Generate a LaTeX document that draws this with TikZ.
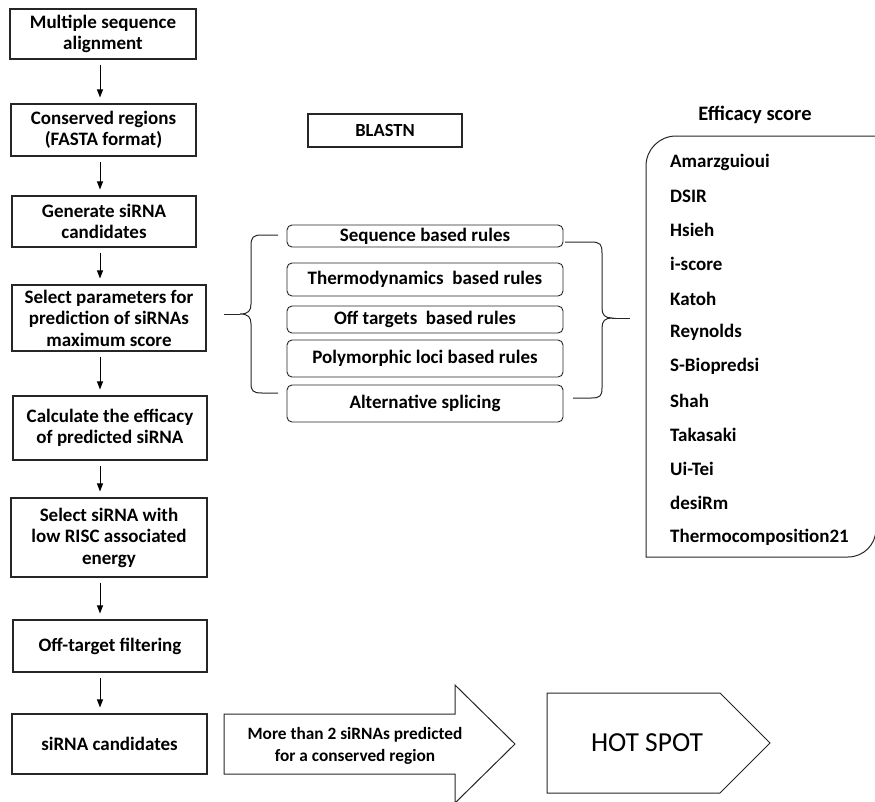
\documentclass[tikz,border=0pt]{standalone}
\usepackage{fontspec}
\setmainfont{Carlito}
\usetikzlibrary{arrows.meta}
\begin{document}
\begin{tikzpicture}[x=1pt,y=-1pt,
 box/.style={draw=black!85, line width=1.1pt, align=center, font=\bfseries\fontsize{19}{21.5}\selectfont, inner sep=0pt},
 rule/.style={draw=black!85, line width=0.9pt, rounded corners=5pt, minimum width=276pt, inner sep=0pt, font=\bfseries\fontsize{19}{21}\selectfont},
 item/.style={anchor=west, inner sep=0pt, font=\bfseries\fontsize{19}{21}\selectfont},
 arr/.style={-{Triangle[width=6pt,length=8pt]}, line width=0.9pt, shorten <=5pt, shorten >=6pt},
 brace/.style={draw=black!85, line width=1pt},
 shapeline/.style={draw=black!85, line width=1pt}]
\useasboundingbox (0,0) rectangle (875,801);
\clip (0,0) rectangle (875,801);

% left column
\node[box, minimum width=186pt, minimum height=50pt] (b1) at (103,34) {Multiple sequence\\alignment};
\node[box, minimum width=185pt, minimum height=52pt] (b2) at (103.5,130) {Conserved regions\\(FASTA format)};
\node[box, minimum width=184pt, minimum height=51pt] (b3) at (104,221.5) {Generate siRNA\\candidates};
\node[box, minimum width=194pt, minimum height=66pt] (b4) at (109,318) {Select parameters for\\prediction of siRNAs\\maximum score};
\node[box, minimum width=194pt, minimum height=64pt] (b5) at (110,428) {Calculate the efficacy\\of predicted siRNA};
\node[box, minimum width=196pt, minimum height=79pt] (b6) at (109,537.5) {Select siRNA with\\low RISC associated\\energy};
\node[box, minimum width=194pt, minimum height=52pt] (b7) at (110,646) {Off-target filtering};
\node[box, minimum width=195pt, minimum height=60pt] (b8) at (109.5,744) {siRNA candidates};

\coordinate (ax) at (100,0);
\foreach \a/\b in {b1/b2,b2/b3,b3/b4,b4/b5,b5/b6,b6/b7,b7/b8}
  \draw[arr] (\a.south -| ax) -- (\b.north -| ax);

% BLASTN
\node[box, font=\bfseries\fontsize{18.5}{20}\selectfont, minimum width=154pt, minimum height=33pt] (bl) at (385,130.5) {BLASTN};

% rules
\node[rule, minimum height=22pt] (r1) at (425,236) {Sequence based rules};
\node[rule, minimum height=33pt] (r2) at (425,279.5) {Thermodynamics\ \ based rules};
\node[rule, minimum height=27pt] (r3) at (425,319.5) {Off targets\ \ based rules};
\node[rule, minimum height=37pt] (r4) at (425,358.5) {Polymorphic loci based rules};
\node[rule, minimum height=37pt] (r5) at (425,403.5) {Alternative splicing};

% left brace
\coordinate (lt) at (240,314);
\draw[brace] (278,235) -- (262,235) .. controls (253,235) and (251,237) .. (251,246) -- (251,304)
  .. controls (251,311) and (248,314) .. (lt)
  .. controls (248,314) and (251,317) .. (251,324) -- (251,383)
  .. controls (251,391) and (253,393) .. (262,393) -- (278,393);
\draw[brace, shorten >=17pt] (lt) -- (lt -| b4.east);

% right brace
\coordinate (rt) at (612,318);
\coordinate (rte) at (630,318);
\draw[brace] (565,242) -- (591,242) .. controls (600,242) and (602,244) .. (602,253) -- (602,308)
  .. controls (602,315) and (605,318) .. (rt)
  .. controls (605,318) and (602,321) .. (602,328) -- (602,388)
  .. controls (602,396) and (600,398) .. (591,398) -- (573,398);
\draw[brace] (rt) -- (rte);

% efficacy panel
\node[font=\bfseries\fontsize{20.5}{22}\selectfont, inner sep=0pt] (et) at (755,115) {Efficacy score};
\draw[shapeline] (646,557) -- (646,166) .. controls (646,149.4) and (659.4,136) .. (676,136)
  -- (876,136) -- (876,529) .. controls (876,544.5) and (863.5,557) .. (848,557) -- cycle;
\foreach \t [count=\i from 0] in {Amarzguioui,DSIR,Hsieh,i-score,Katoh,Reynolds,S-Biopredsi,Shah,Takasaki,Ui-Tei,desiRm,Thermocomposition21}
  \node[item] (it\i) at (670,162+34.1*\i) {\t};

% bottom arrows
\draw[shapeline] (224,714) -- (455,714) -- (455,685) -- (515,744) -- (455,803) -- (455,774) -- (224,774) -- cycle;
\node[align=center, inner sep=0pt, font=\bfseries\fontsize{17.3}{22}\selectfont] (mt) at (355,746) {More than 2 siRNAs predicted\\for a conserved region};
\draw[shapeline] (547,693) -- (720,693) -- (770,743) -- (720,793) -- (547,793) -- cycle;
\node[inner sep=0pt, font=\fontsize{27.5}{30}\selectfont] (hs) at (647,743) {HOT SPOT};
\end{tikzpicture}
\end{document}
